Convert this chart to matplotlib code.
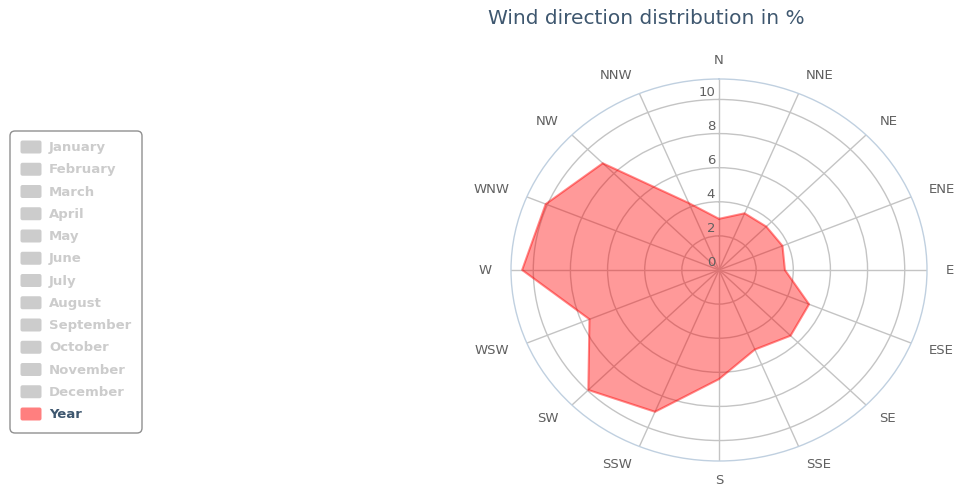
import numpy as np
import matplotlib
matplotlib.use('Agg')
import matplotlib.pyplot as plt
import matplotlib.transforms as mtransforms
from matplotlib.patches import FancyBboxPatch

# ---- data ----
directions = ['N', 'NNE', 'NE', 'ENE', 'E', 'ESE', 'SE', 'SSE',
              'S', 'SSW', 'SW', 'WSW', 'W', 'WNW', 'NW', 'NNW']
year_values = [3.0, 3.6, 3.6, 3.7, 3.55, 5.25, 5.45, 5.05,
               6.4, 9.0, 9.95, 7.55, 10.6, 10.1, 8.85, 4.25]
legend_labels = ['January', 'February', 'March', 'April', 'May', 'June',
                 'July', 'August', 'September', 'October', 'November',
                 'December', 'Year']
legend_visible = [False] * 12 + [True]
radial_ticks = [0, 2, 4, 6, 8, 10]
title_text = 'Wind direction distribution in %'

# ---- figure ----
W, H = 956, 487
fig = plt.figure(figsize=(W / 100, H / 100), dpi=100)
plt.rcParams['font.family'] = ['DejaVu Sans']

cx, cy = 719, 270
rx, ry = 208, 191
ax = fig.add_axes([(cx - rx) / W, (H - cy - ry) / H, 2 * rx / W, 2 * ry / H],
                  projection='polar')
ax.set_aspect('auto')
ax.set_theta_zero_location('N')
ax.set_theta_direction(-1)
rmax = 11.2
ax.set_ylim(0, rmax)

theta = np.deg2rad(np.arange(len(directions)) * 360.0 / len(directions))
ax.set_xticks(theta)
ax.set_xticklabels([])
ax.set_yticks(radial_ticks[1:])
ax.set_yticklabels([])
ax.tick_params(length=0)
ax.grid(True, color='#C4C4C4', lw=1)
ax.spines['polar'].set_color('#C0D0E0')
ax.spines['polar'].set_linewidth(1.0)
ax.set_axisbelow(True)

tc = np.append(theta, theta[0])
vc = np.append(year_values, year_values[0])
ax.fill(tc, vc, facecolor=(1, 0, 0, 0.4), edgecolor='none', zorder=2)
ax.plot(tc, vc, color=(1, 0, 0, 0.45), lw=1.5, zorder=3)

# direction labels
pad = 19
for ang, name in zip(theta, directions):
    s, c = np.sin(ang), np.cos(ang)
    ha = 'center' if abs(s) < 0.1 else ('left' if s > 0 else 'right')
    tr = mtransforms.offset_copy(ax.transData, fig=fig, x=pad * s, y=pad * c, units='dots')
    ax.text(ang, rmax, name, transform=tr, ha=ha, va='center', fontsize=9.5,
            color='#606060', clip_on=False)

# radial labels
for r in radial_ticks:
    tr = mtransforms.offset_copy(ax.transData, fig=fig, x=-4, y=7, units='dots')
    ax.text(0, r, str(r), transform=tr, ha='right', va='center', fontsize=9.5,
            color='#606060', clip_on=False, zorder=5)

# title
fig.text(646 / W, 1 - 19 / H, title_text, ha='center', va='center',
         fontsize=14.5, color='#3E576F')

# legend (pixel-based, via inches)
def px(x):
    return x / 100.0

box = FancyBboxPatch((px(10), px(H - 433)), px(132), px(302),
                     boxstyle='round,pad=0,rounding_size=0.05',
                     transform=fig.dpi_scale_trans, facecolor='white',
                     edgecolor='#909090', lw=1)
fig.patches.append(box)
for i, (lab, vis) in enumerate(zip(legend_labels, legend_visible)):
    yc = 147.5 + 22.25 * i
    sym = FancyBboxPatch((px(20.5), px(H - yc - 6)), px(21), px(13),
                         boxstyle='round,pad=0,rounding_size=0.02',
                         transform=fig.dpi_scale_trans,
                         facecolor=(1, 0, 0, 0.5) if vis else '#CCCCCC',
                         edgecolor='none')
    fig.patches.append(sym)
    fig.text(49 / W, 1 - yc / H, lab, ha='left', va='center', fontsize=9.5,
             fontweight='bold', color='#3E576F' if vis else '#CCCCCC')

fig.savefig('out.png', dpi=100)
